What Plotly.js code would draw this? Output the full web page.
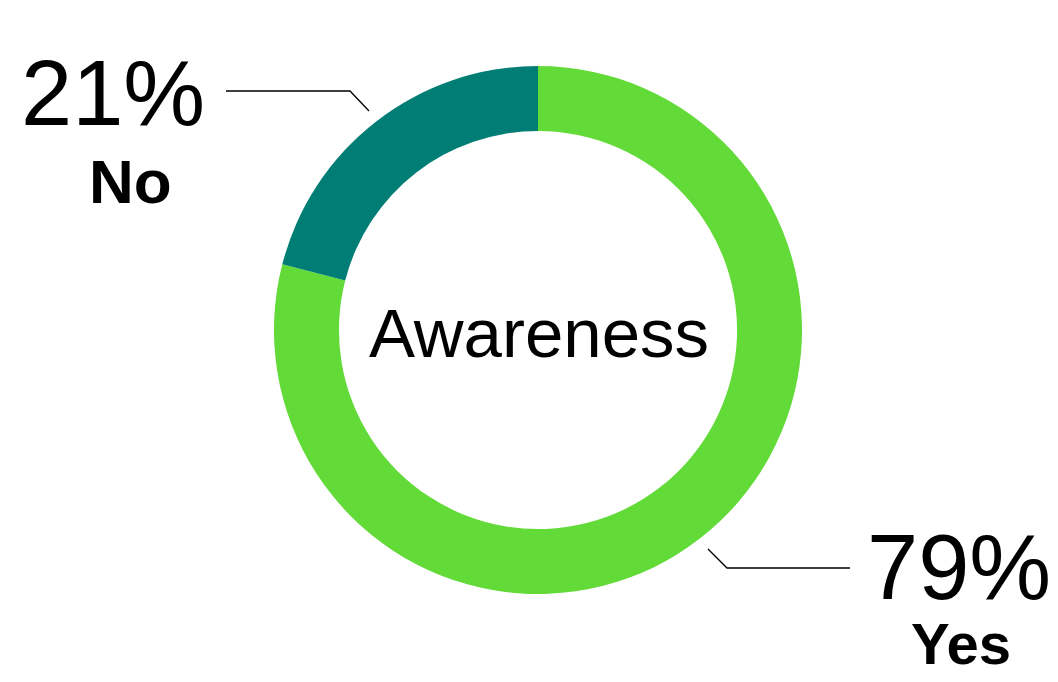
<!DOCTYPE html>
<html>
<head>
<meta charset="utf-8">
<script src="https://cdn.plot.ly/plotly-3.0.1.min.js"></script>
<style>html,body{margin:0;padding:0;background:#fff;}#chart{width:1058px;height:682px;}</style>
</head>
<body>
<div id="chart"></div>
<script>
const categories = ["Yes", "No"];
const shares = [79, 21];
const sliceColors = ["#62DA38", "#007D74"];
const centerLabel = "Awareness";

const W = 1058, H = 682;
const px = x => x / W;
const py = y => 1 - y / H;

const trace = {
  type: "pie",
  labels: categories,
  values: shares,
  sort: false,
  direction: "clockwise",
  rotation: 0,
  hole: 0.754,
  textinfo: "none",
  hoverinfo: "label+percent",
  marker: { colors: sliceColors, line: { width: 0 } },
  domain: { x: [px(274), px(802)], y: [py(594), py(66)] },
  showlegend: false
};

const pctFont = { family: "Liberation Sans, Arial, sans-serif", size: 92, color: "#000" };
const lblFont = { family: "Liberation Sans, Arial, sans-serif", size: 62, color: "#000" };

const annotations = [
  { text: centerLabel, x: px(539), y: py(333), xref: "paper", yref: "paper", showarrow: false,
    font: { family: "Liberation Sans, Arial, sans-serif", size: 69, color: "#000" }, xanchor: "center", yanchor: "middle" },
  { text: Math.round(shares[1]) + "%", x: px(113), y: py(93), xref: "paper", yref: "paper", showarrow: false,
    font: pctFont, xanchor: "center", yanchor: "middle" },
  { text: "<b>" + categories[1] + "</b>", x: px(130), y: py(181), xref: "paper", yref: "paper", showarrow: false,
    font: lblFont, xanchor: "center", yanchor: "middle" },
  { text: Math.round(shares[0]) + "%", x: px(959), y: py(567), xref: "paper", yref: "paper", showarrow: false,
    font: pctFont, xanchor: "center", yanchor: "middle" },
  { text: "<b>" + categories[0] + "</b>", x: px(961), y: py(643), xref: "paper", yref: "paper", showarrow: false,
    font: { family: "Liberation Sans, Arial, sans-serif", size: 58, color: "#000" }, xanchor: "center", yanchor: "middle" }
];

const lineStyle = { color: "#000", width: 1.3 };
const shapes = [
  { type: "path", xref: "paper", yref: "paper",
    path: `M ${px(226)} ${py(91)} L ${px(350)} ${py(91)} L ${px(369)} ${py(111)}`, line: lineStyle },
  { type: "path", xref: "paper", yref: "paper",
    path: `M ${px(708)} ${py(549)} L ${px(727)} ${py(568)} L ${px(850)} ${py(568)}`, line: lineStyle }
];

const layout = {
  width: W, height: H,
  margin: { l: 0, r: 0, t: 0, b: 0 },
  paper_bgcolor: "#fff",
  plot_bgcolor: "#fff",
  annotations: annotations,
  shapes: shapes
};

Plotly.newPlot("chart", [trace], layout, { displayModeBar: false, staticPlot: true });
</script>
</body>
</html>
